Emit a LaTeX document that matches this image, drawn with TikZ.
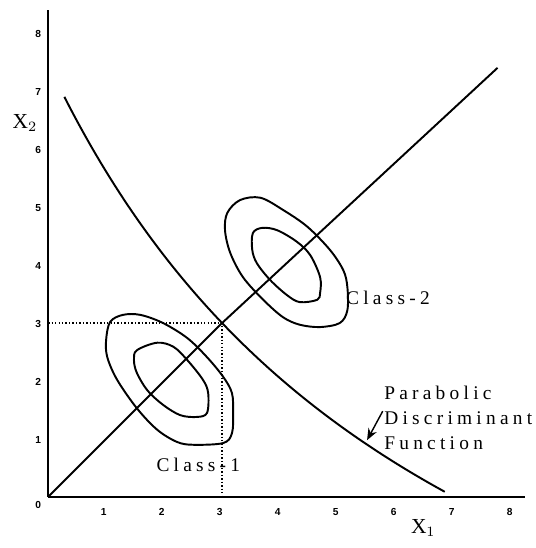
\documentclass[tikz,border=0pt]{standalone}
\usepackage{fontspec}
\setmainfont{Liberation Serif}
\newfontfamily\espaciada[LetterSpace=22]{Liberation Serif}
\newfontfamily\marcasf{Liberation Sans}
\usetikzlibrary{arrows.meta}

\begin{document}
\begin{tikzpicture}[
curva/.style={line width=0.95pt,line join=round},
punteada/.style={densely dotted,line width=0.7pt},
clase/.style={font=\espaciada\fontsize{9.5}{12.3}\selectfont,inner sep=0pt,align=left},
marca/.style={font=\marcasf\bfseries\fontsize{5}{6}\selectfont,inner sep=0pt},
eje/.style={font=\fontsize{10.5}{12}\selectfont,inner sep=0pt},
arr/.style={-{Stealth[length=2mm,width=1.6mm]},line width=0.7pt}
]
\useasboundingbox (-0.83,-0.88) rectangle (8.40,8.57);

% ejes
\coordinate (o) at (0,0);
\coordinate (xfin) at (8.22,0);
\coordinate (yfin) at (0,8.40);
\draw[curva] (o) -- (xfin);
\draw[curva] (o) -- (yfin);
\node[marca] (cero) at (-0.17,-0.14) {0};
\foreach \i in {1,...,8} {
  \node[marca] (mx\i) at (\i-0.04,-0.26) {\i};
  \node[marca] (my\i) at (-0.17,\i-0.02) {\i};
}
\node[eje] (x1) at (6.47,-0.53) {X$_1$};
\node[eje] (x2) at (-0.40,6.45) {X$_2$};

% recta y funcion discriminante
\coordinate (cruce) at (3,3);
\coordinate (rfin) at (7.75,7.4);
\draw[curva] (o) -- (cruce) -- (rfin);
\draw[curva] plot[domain=0.28:6.84,samples=60,smooth] (\x,{106.2/(\x+7.073)-7.544});
\coordinate (px) at (3,0);
\coordinate (py) at (0,3);
\draw[punteada] (py) -- (cruce) -- (px);

% clase 1
\draw[curva] plot[smooth cycle,tension=0.55] coordinates {(1.07,3.02) (1.29,3.14) (1.59,3.14) (1.98,3.0) (2.40,2.74) (2.74,2.41) (3.02,2.07) (3.17,1.79) (3.19,1.45) (3.17,1.10) (3.02,0.93) (2.50,0.90) (2.22,0.95) (1.88,1.16) (1.53,1.53) (1.19,2.02) (1.02,2.41) (1.0,2.71)};
\draw[curva] plot[smooth cycle,tension=0.55] coordinates {(1.53,2.53) (1.88,2.66) (2.16,2.59) (2.40,2.36) (2.67,2.02) (2.76,1.79) (2.74,1.45) (2.57,1.38) (2.28,1.41) (1.98,1.59) (1.71,1.84) (1.53,2.14) (1.48,2.36)};

% clase 2
\draw[curva] plot[smooth cycle,tension=0.55] coordinates {(3.09,4.90) (3.31,5.12) (3.66,5.16) (4.05,4.95) (4.47,4.66) (4.86,4.26) (5.09,3.91) (5.16,3.62) (5.16,3.22) (5.03,3.0) (4.69,2.93) (4.34,2.97) (4.05,3.10) (3.71,3.40) (3.36,3.79) (3.14,4.21) (3.05,4.60)};
\draw[curva] plot[smooth cycle,tension=0.55] coordinates {(3.53,4.55) (3.69,4.64) (3.95,4.60) (4.29,4.40) (4.52,4.17) (4.69,3.79) (4.69,3.52) (4.64,3.40) (4.34,3.36) (4.12,3.48) (3.83,3.74) (3.60,4.03) (3.52,4.26)};

\node[clase] (c1) at (2.59,0.55) {Class-1};
\node[clase] (c2) at (5.86,3.43) {Class-2};
\node[clase,anchor=west] (pdf) at (5.79,1.36) {Parabolic\\Discriminant\\Function};
\coordinate (punta) at (5.5,0.98);
\coordinate (base) at (5.77,1.48);
\draw[arr] (base) -- (punta);
\end{tikzpicture}
\end{document}
